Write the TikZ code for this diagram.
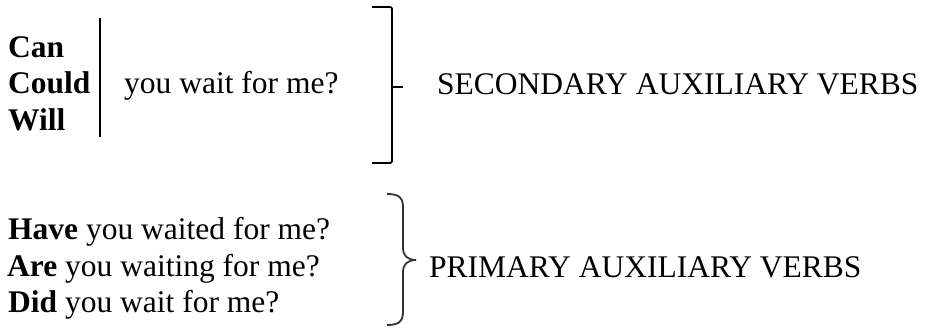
\documentclass[tikz,border=0pt]{standalone}
\usepackage{fontspec}
\setmainfont{Liberation Serif}
\begin{document}
\begin{tikzpicture}[x=1pt,y=-1pt,
  txt/.style={anchor=base west,inner sep=0pt,font=\fontsize{31.5}{36}\selectfont},
  ln/.style={line width=1.8pt},
  brc/.style={line width=1.8pt,black!80}]
\useasboundingbox[fill=white] (0,0) rectangle (929,328);
% upper group
\node[txt] (can) at (8,57.7) {\textbf{Can}};
\node[txt] (could) at (8,94) {\textbf{Could}};
\node[txt] (will) at (8,131) {\textbf{Will}};
\coordinate (vtop) at (100,18);
\coordinate (vbot) at (100,137);
\draw[ln] (vtop) -- (vbot);
\node[txt] (wait) at (124,94) {you wait for me?};
\coordinate (bt) at (372,7);
\coordinate (bb) at (372,163);
\coordinate (btip) at (403,87);
\draw[ln,rounded corners=2pt] (bt) -- (392,7) -- (392,163) -- (bb);
\draw[ln] (392,87) -- (btip);
\node[txt] (sec) at (437,95) {SECONDARY AUXILIARY VERBS};
% lower group
\node[txt] (have) at (8,240) {\textbf{Have} you waited for me?};
\node[txt] (are) at (7,277) {\textbf{Are} you waiting for me?};
\node[txt] (did) at (8,313) {\textbf{Did} you wait for me?};
\coordinate (ct) at (387,194);
\coordinate (cb) at (387,325);
\coordinate (ctip) at (416,260);
\draw[brc] (ct) .. controls (398,194) and (403,197) .. (403,207)
  -- (403,248) .. controls (403,256) and (408,260) .. (ctip)
  .. controls (408,260) and (403,264) .. (403,272)
  -- (403,312) .. controls (403,322) and (398,325) .. (cb);
\node[txt] (pri) at (429,278) {PRIMARY AUXILIARY VERBS};
\end{tikzpicture}
\end{document}
